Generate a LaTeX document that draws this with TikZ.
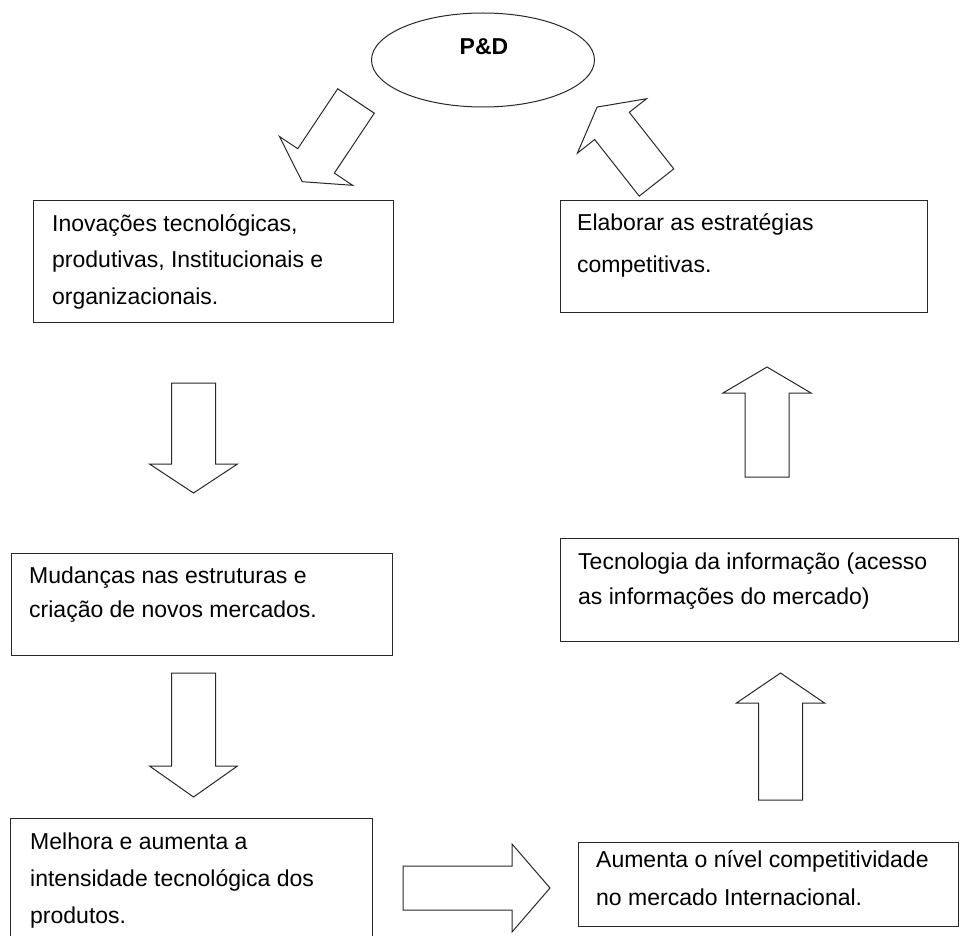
\documentclass[tikz,border=0pt]{standalone}
\usepackage{fontspec}
\setmainfont{Liberation Sans}
\usetikzlibrary{shapes.geometric}
\definecolor{linha}{RGB}{40,40,40}
\tikzset{
  caixa/.style={draw=linha, line width=1.4pt, inner sep=0pt, anchor=north west},
  texto/.style={font=\fontsize{23}{#1}\selectfont, align=left, anchor=base west, inner sep=0pt},
  texto/.default=37,
  seta/.style={draw=linha, line width=1pt, fill=white, line join=miter}
}

\begin{document}
\begin{tikzpicture}[x=1pt, y=-1pt]
    \useasboundingbox (0,0) rectangle (961,936);

    % P&D
    \node[draw=linha, line width=1pt, ellipse, minimum width=223pt, minimum height=94pt] (PD) at (483,60) {};
    \node[font=\fontsize{23}{28}\selectfont\bfseries, inner sep=0pt] (PDtexto) at (484,47) {P\&D};

    % caixas
    \foreach \n/\x/\y/\w/\h in {B1/33/200/360/122, B2/560/200/367/112, B3/11/553/381/102, B4/560/538/398/103, B5/10/818/362/132, B6/578/842/380/84}{
        \node[caixa, minimum width=\w pt, minimum height=\h pt] (\n) at (\x,\y) {};
    }

    % textos (ancorados na linha de base da ultima linha)
    \node[texto=36.5] (T1) at (52,304) {Inovações tecnológicas,\\produtivas, Institucionais e\\organizacionais.};
    \node[texto=42] (T2) at (577,272) {Elaborar as estratégias\\competitivas.};
    \node[texto=34] (T3) at (29,617) {Mudanças nas estruturas e\\criação de novos mercados.};
    \node[texto=35] (T4) at (578,604) {Tecnologia da informação (acesso\\as informações do mercado)};
    \node[texto=37] (T5) at (30,923) {Melhora e aumenta a\\intensidade tecnológica dos\\produtos.};
    \node[texto=38] (T6) at (596,905) {Aumenta o nível competitividade\\no mercado Internacional.};

    % setas
    \foreach \x/\y/\a/\l/\c in {356/101/236.3/97/25, 656.5/182.5/128.2/96/24, 193.5/383/-90/110/29, 193.5/673/-90/124/31, 780.5/800/90/127/30, 767/477/90/110/26, 403/888/0/147/38}{
        \draw[seta, shift={(\x,\y)}, rotate=\a] (0,-22) -- (\l-\c,-22) -- (\l-\c,-44) -- (\l,0) -- (\l-\c,44) -- (\l-\c,22) -- (0,22) -- cycle;
    }

\end{tikzpicture}
\end{document}
